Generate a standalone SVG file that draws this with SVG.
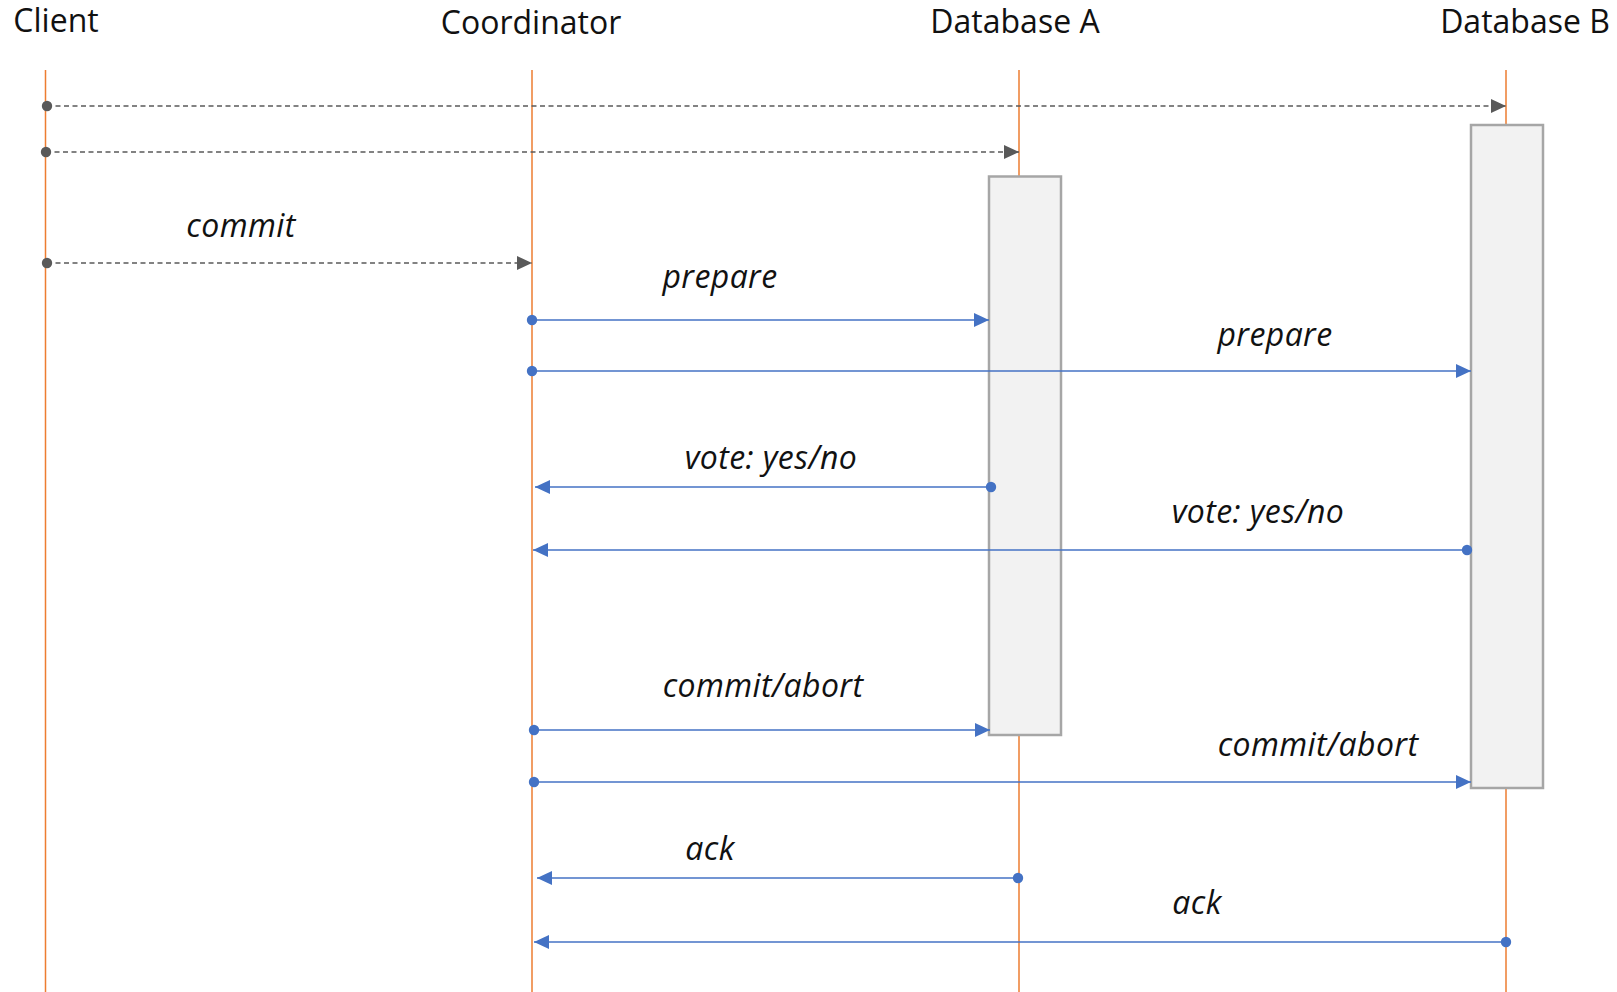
<svg xmlns="http://www.w3.org/2000/svg" width="1617" height="992" viewBox="0 0 1617 992">
  <style>
    .title { font-family: "Open Sans", "Noto Sans", sans-serif; font-size: 32px; fill: #111; text-anchor: middle; }
    .label { font-family: "Open Sans", "Noto Sans", sans-serif; font-size: 32px; letter-spacing: 0.4px; font-style: italic; fill: #111; text-anchor: middle; }
    .lifeline { stroke: #ed7d31; stroke-width: 1.5; fill: none; }
    .activation { fill: #f2f2f2; stroke: #a6a6a6; stroke-width: 2.5; }
    .msg { stroke: #4472c4; stroke-width: 1.6; fill: none; marker-start: url(#dotBlue); marker-end: url(#arrowBlue); }
    .setup { stroke: #595959; stroke-width: 1.6; stroke-dasharray: 5 3.5; fill: none; marker-start: url(#dotGray); marker-end: url(#arrowGray); }
  </style>
  <defs>
    <marker id="arrowBlue" markerUnits="userSpaceOnUse" markerWidth="16" markerHeight="14" refX="15" refY="7" orient="auto">
      <path d="M0,0 L15,7 L0,14 Z" fill="#4472c4"/>
    </marker>
    <marker id="dotBlue" markerUnits="userSpaceOnUse" markerWidth="12" markerHeight="12" refX="6" refY="6" orient="auto">
      <circle cx="6" cy="6" r="5.2" fill="#4472c4"/>
    </marker>
    <marker id="arrowGray" markerUnits="userSpaceOnUse" markerWidth="16" markerHeight="14" refX="15" refY="7" orient="auto">
      <path d="M0,0 L15,7 L0,14 Z" fill="#595959"/>
    </marker>
    <marker id="dotGray" markerUnits="userSpaceOnUse" markerWidth="12" markerHeight="12" refX="6" refY="6" orient="auto">
      <circle cx="6" cy="6" r="5.2" fill="#595959"/>
    </marker>
  </defs>

  <rect width="1617" height="992" fill="#ffffff"/>

  <!-- participants: header + lifeline (+ activation bar) -->
  <g id="client">
    <text class="title" x="56" y="32">Client</text>
    <line class="lifeline" x1="45.5" y1="70" x2="45.5" y2="992"/>
  </g>
  <g id="coordinator">
    <text class="title" x="531" y="34">Coordinator</text>
    <line class="lifeline" x1="532" y1="70" x2="532" y2="992"/>
  </g>
  <g id="database-a">
    <text class="title" x="1015" y="33">Database A</text>
    <line class="lifeline" x1="1019" y1="70" x2="1019" y2="992"/>
    <rect class="activation" x="989" y="176.5" width="72" height="558.5"/>
  </g>
  <g id="database-b">
    <text class="title" x="1525" y="33">Database B</text>
    <line class="lifeline" x1="1506" y1="70" x2="1506" y2="992"/>
    <rect class="activation" x="1471" y="125" width="72" height="663"/>
  </g>

  <!-- messages -->
  <g id="connectors">
    <path class="setup" d="M47,106 H1506"/>
    <path class="setup" d="M46,152 H1019"/>
    <path class="setup" d="M47,263 H532"/>

    <path class="msg" d="M532,320 H989"/>
    <path class="msg" d="M532,371 H1471"/>
    <path class="msg" d="M991,487 H535"/>
    <path class="msg" d="M1467,550 H533"/>
    <path class="msg" d="M534,730 H990"/>
    <path class="msg" d="M534,782 H1471"/>
    <path class="msg" d="M1018,878 H537"/>
    <path class="msg" d="M1506,942 H534"/>
  </g>

  <!-- message labels -->
  <g id="labels">
    <text class="label" x="241" y="237">commit</text>
    <text class="label" x="720" y="288">prepare</text>
    <text class="label" x="1275" y="346">prepare</text>
    <text class="label" x="771" y="469">vote: yes/no</text>
    <text class="label" x="1258" y="523">vote: yes/no</text>
    <text class="label" x="763" y="697">commit/abort</text>
    <text class="label" x="1318" y="756">commit/abort</text>
    <text class="label" x="710" y="860">ack</text>
    <text class="label" x="1197" y="914">ack</text>
  </g>
</svg>
